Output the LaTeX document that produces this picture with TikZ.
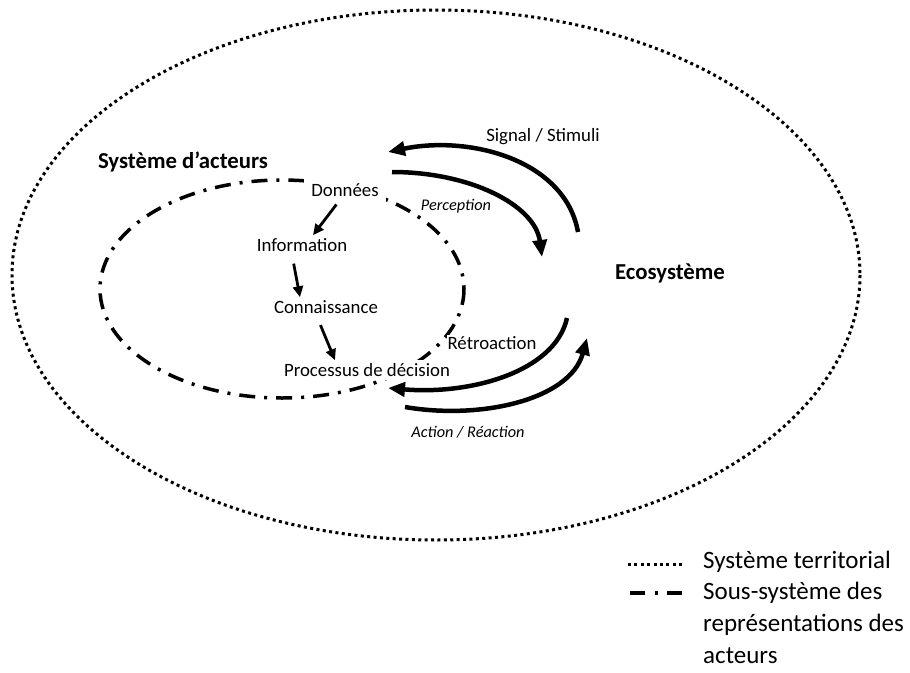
\documentclass[tikz,border=0pt]{standalone}
\usepackage{fontspec}
\setmainfont{Carlito}
\usetikzlibrary{arrows.meta}
\tikzset{
	labelnode/.style={fill=white, inner sep=3pt, font=\fontsize{18.8}{22}\selectfont},
	boldnode/.style={inner sep=2pt, font=\bfseries\fontsize{22.8}{26}\selectfont},
	smallnode/.style={inner sep=2pt, font=\itshape\fontsize{16.3}{19}\selectfont},
	legendnode/.style={inner sep=0pt, align=left, font=\fontsize{25}{32}\selectfont},
	bigarrow/.style={-{Triangle[length=17pt,width=14pt]}, line width=4.5pt},
	smallarrow/.style={-{Triangle[length=11pt,width=10pt]}, line width=2.8pt},
	mydotted/.style={line width=3pt, dash pattern=on 3pt off 3.4pt},
	mydashdot/.style={line width=3.5pt, dash pattern=on 16pt off 9pt on 3pt off 9pt}
}

\begin{document}
\begin{tikzpicture}[x=1pt, y=-1pt]
		\useasboundingbox (0,0) rectangle (910,672);
		\draw[mydotted] (436,275) ellipse [x radius=424, y radius=265];
		\draw[mydashdot] (282,289) ellipse [x radius=182, y radius=109];
		\node[boldnode] at (183,162) (acteurs) {Système d’acteurs};
		\node[boldnode] at (670,273) (eco) {Ecosystème};
		\node[labelnode, inner sep=7pt] at (345,190) (donnees) {Données};
		\node[labelnode] at (302,245) (info) {Information};
		\node[labelnode] at (326,307) (conn) {Connaissance};
		\node[labelnode] at (367,370) (decision) {Processus de décision};
		\node[smallnode] at (456,206) (perception) {Perception};
		\node[labelnode, fill=none] at (543,137) (signal) {Signal / Stimuli};
		\node[labelnode, inner sep=1pt] at (492,343) (retro) {Rétroaction};
		\node[smallnode] at (468,432) (action) {Action / Réaction};
		% chaine des representations
		\draw[smallarrow, shorten <=1pt] ([xshift=-8pt]donnees.south) -- ([xshift=11pt]info.north);
		\draw[smallarrow, shorten <=9pt] ([xshift=-10pt]info.south) -- ([xshift=-26pt]conn.north);
		\draw[smallarrow, shorten <=9pt] ([xshift=-9pt]conn.south) -- ([xshift=-32pt]decision.north);
		% echanges avec l'ecosysteme
		\coordinate (sig-a) at (578,232);
		\coordinate (sig-b) at (388,152);
		\coordinate (per-a) at (392,172);
		\coordinate (per-b) at (542,257);
		\coordinate (ret-a) at (567,318);
		\coordinate (ret-b) at (388,388);
		\coordinate (act-a) at (405,407);
		\coordinate (act-b) at (587,338);
		\draw[bigarrow] (sig-a) .. controls (565,160) and (470,135) .. (sig-b);
		\draw[bigarrow] (per-a) .. controls (470,172) and (535,205) .. (per-b);
		\draw[bigarrow] (ret-a) .. controls (555,372) and (470,395) .. (ret-b);
		\draw[bigarrow] (act-a) .. controls (480,420) and (570,400) .. (act-b);
		% legende
		\draw[mydotted] (628,564) -- (682,564);
		\draw[line width=3.5pt, dash pattern=on 15pt off 9.5pt on 3pt off 9.5pt] (630,593) -- (682,593);
		\node[legendnode, anchor=base west] at (703,568) (leg-terr) {Système territorial};
		\node[legendnode, anchor=north west] at (703,582) (leg-sous) {Sous-système des\\représentations des\\acteurs};
	\end{tikzpicture}
\end{document}
